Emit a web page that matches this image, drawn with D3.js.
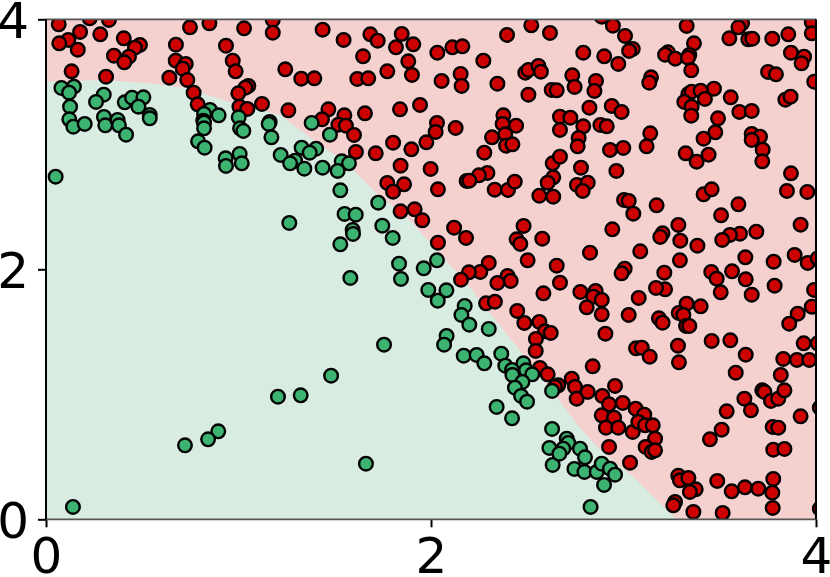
<!DOCTYPE html>
<html>
<head>
<meta charset="utf-8">
<script src="https://cdn.jsdelivr.net/npm/d3@7"></script>
<style>
    body { margin: 0; background: #fff; }
    svg { display: block; }
    text { font-family: "DejaVu Sans"; }
</style>
</head>
<body>
<div id="chart"></div>
<script>
var tickValues = [0, 2, 4];

//Points of the class outside the boundary
var redPoints = [
    [.066,3.96],[.227,4.008],[.327,3.995],[.177,3.899],[.116,3.835],[.069,3.808],[.165,3.757],[.282,3.88],[.404,3.848],[.488,3.795],
    [.462,3.773],[.353,3.709],[.431,3.701],[.407,3.656],[.133,3.584],[.312,3.541],[.675,3.797],[.748,3.936],[.849,3.968],[1.029,3.928],
    [1.178,3.995],[1.178,3.893],[.935,3.789],[.97,3.669],[.985,3.584],[.674,3.669],[.726,3.643],[.71,3.605],[.641,3.533],[.734,3.515],
    [.767,3.413],[.788,3.32],[1.051,3.467],[1.036,3.453],[.999,3.408],[1.122,3.323],[1.005,3.301],[1.046,3.283],
    [1.437,3.917],[1.546,3.835],[1.685,3.88],[1.723,3.829],[1.848,3.883],[1.908,3.8],[1.818,3.776],[1.647,3.704],[1.882,3.664],[1.243,3.6],
    [1.326,3.525],[1.394,3.528],[1.617,3.523],[1.674,3.528],[1.773,3.584],[1.901,3.555],[2.033,3.733],[2.111,3.776],[2.163,3.784],[2.272,3.669],
    [2.395,3.875],[2.521,3.952],[2.618,3.891],[2.49,3.573],[2.506,3.595],[2.558,3.627],[2.571,3.581],[2.055,3.507],[2.154,3.563],[2.159,3.467],
    [2.345,3.485],[2.506,3.397],[2.627,3.435],[2.653,3.432],[1.259,3.272],[1.467,3.28],[1.434,3.2],[1.55,3.232],[1.519,3.157],[1.558,3.149],
    [1.6,3.075],[1.657,3.248],[1.839,3.28],[1.943,3.315],[2.031,3.171],[2.024,3.099],[2.128,3.131],[1.976,3.016],[1.898,2.96],[1.803,3.013],
    [2.376,3.232],[2.372,3.163],[2.442,3.149],[2.317,3.056],[2.386,3.08],[2.39,2.989],[2.423,3.0],[2.277,2.933],[1.61,2.939],[1.713,2.928],
    [1.842,2.829],[1.998,2.803],[2.67,3.221],[2.67,3.115],[2.632,2.848],[2.635,2.736],[2.606,2.693],[2.67,2.901],[1.773,2.691],[1.86,2.68],
    [1.803,2.621],[2.036,2.64],[2.293,2.771],[2.249,2.752],[2.185,2.707],[2.199,2.709],[2.331,2.637],[2.4,2.635],[2.435,2.701],[2.563,2.589],[2.635,2.581],
    [2.887,4.021],[2.945,3.949],[3.008,3.867],[2.791,3.733],[2.9,3.704],[3.048,3.763],[3.029,3.747],[2.973,3.643],[2.734,3.552],[2.746,3.459],
    [2.857,3.507],[2.849,3.427],[2.823,3.293],[2.939,3.307],[2.99,3.259],[2.724,3.213],[2.791,3.144],[2.88,3.155],[2.913,3.144],[2.767,3.051],
    [2.762,2.984],[2.779,2.813],[2.93,2.955],[2.999,2.971],[2.963,2.787],[3.143,3.536],[3.134,3.493],[3.139,3.088],[3.12,2.984],[3.328,3.947],
    [3.616,3.968],[3.597,3.936],[3.55,3.848],[3.648,3.84],[3.669,3.845],[3.773,3.845],[3.856,3.88],[3.978,3.976],[3.978,3.888],[3.366,3.808],
    [3.231,3.736],[3.216,3.717],[3.269,3.685],[3.342,3.715],[3.335,3.693],[3.352,3.592],[3.87,3.733],[3.938,3.701],[3.925,3.648],[3.751,3.579],
    [3.792,3.56],[3.991,3.501],[3.47,3.445],[3.557,3.376],[3.337,3.403],[3.354,3.421],[3.401,3.429],[3.423,3.363],[3.316,3.339],[3.354,3.301],
    [3.352,3.229],[3.602,3.259],[3.666,3.267],[3.491,3.208],[3.841,3.357],[3.868,3.381],[3.477,3.096],[3.416,3.045],[3.323,2.928],[3.38,2.861],
    [3.442,2.917],[3.666,3.083],[3.709,3.061],[3.666,3.035],[3.723,2.957],[3.721,2.864],[3.87,2.768],[3.849,2.627],[3.955,2.619],[2.758,2.675],
    [2.814,2.693],[2.788,2.627],[3.416,2.6],[3.458,2.64],
    [1.842,2.464],[1.915,2.48],[1.955,2.392],[2.12,2.333],[2.182,2.251],[2.036,2.213],[2.481,2.347],[2.445,2.24],[2.464,2.203],[2.578,2.245],
    [2.502,2.072],[2.653,2.029],[2.3,2.051],[2.256,1.979],[2.197,1.976],[2.156,1.917],[2.398,1.947],[2.414,1.907],[2.345,1.891],[2.67,1.893],
    [2.584,1.808],[2.286,1.728],[2.332,1.741],[2.448,1.667],[2.485,1.571],[2.563,1.579],[2.592,1.504],[2.622,1.491],[2.545,1.443],[2.544,1.347],
    [2.566,1.211],[2.606,1.16],
    [3.003,2.555],[3.027,2.547],[3.051,2.445],[3.172,2.512],[3.285,2.355],[3.597,2.52],[3.507,2.432],[2.942,2.32],[3.203,2.288],[3.191,2.259],
    [3.295,2.229],[3.384,2.189],[3.92,2.357],[3.69,2.301],[3.605,2.285],[3.553,2.275],[3.513,2.235],[2.826,2.133],[3.087,2.144],[3.293,2.072],
    [3.633,2.096],[3.78,2.061],[3.889,2.115],[3.957,2.051],[4.009,2.088],[3.006,2.005],[2.99,1.968],[3.212,1.973],[3.456,1.979],[3.564,1.984],
    [3.484,1.925],[3.635,1.92],[3.216,1.84],[3.169,1.851],[3.505,1.816],[3.666,1.797],[3.785,1.869],[3.99,1.835],[2.776,1.819],[2.855,1.827],
    [2.843,1.781],[2.887,1.755],[2.809,1.696],[2.887,1.64],[3.079,1.771],[3.027,1.635],[3.328,1.725],[3.401,1.704],[3.287,1.651],[3.311,1.635],
    [3.905,1.645],[3.861,1.565],[3.978,1.701],[3.184,1.608],[3.203,1.573],[3.325,1.547],[3.342,1.547],[2.906,1.485],[3.458,1.427],[3.555,1.432],
    [3.936,1.408],[4.009,1.408],[3.065,1.368],[3.095,1.373],[3.136,1.301],[3.283,1.389],[3.288,1.256],[3.635,1.317],[3.83,1.283],[3.901,1.275],
    [3.965,1.275],[2.84,1.224],[3.583,1.173],[3.817,1.155],
    [2.731,1.125],[2.661,1.072],[2.644,1.059],[2.748,1.059],[2.757,.965],[2.814,1.019],[2.89,.987],[2.956,1.067],[2.925,.92],[2.996,.931],
    [2.887,.832],[2.951,.813],[3.063,.885],[3.108,.837],[2.909,.733],[2.973,.733],[3.048,.699],[3.077,.779],[3.112,.752],[3.152,.752],
    [3.164,.645],[3.115,.579],[3.146,.539],[3.164,.552],[2.925,.579],[3.034,.453],[3.285,.349],[3.293,.312],[3.337,.331],[3.375,.24],
    [3.345,.219],[3.268,.139],[3.259,.112],[3.363,.059],[3.487,.307],[3.562,.224],[3.631,.256],[3.7,.245],[3.778,.323],[3.773,.213],
    [3.775,.091],[3.515,.051],[3.449,.64],[3.51,.717],[3.536,.864],[3.628,.965],[3.662,.872],[3.721,1.032],[3.732,1.019],[3.766,.947],
    [3.804,.965],[3.836,1.032],[3.92,.824],[3.775,.739],[3.804,.733],[3.778,.557],[3.836,.563],[4.02,.893],[4.02,.085]
];

//Points of the class inside the boundary
var greenPoints = [
    [.08,3.451],[.145,3.461],[.12,3.413],[.125,3.301],[.121,3.2],[.142,3.141],[.201,3.163],[.3,3.397],[.26,3.339],[.301,3.219],
    [.308,3.152],[.372,3.195],[.379,3.152],[.416,3.077],[.409,3.336],[.447,3.373],[.506,3.376],[.48,3.301],[.539,3.235],[.539,3.208],
    [.852,3.275],[.897,3.232],[.821,3.243],[.817,3.189],[.821,3.173],[.821,3.128],[.79,3.024],[.824,2.973],[1.001,3.216],[1.008,3.128],
    [1.025,3.107],[1.162,3.179],[1.157,3.163],[1.171,3.056],[.933,2.888],[.935,2.827],[1.006,2.923],[1.017,2.848],[.05,2.741],[1.219,2.915],
    [1.38,3.171],[1.475,3.077],[1.328,2.973],[1.403,2.965],[1.37,2.933],[1.294,2.869],[1.268,2.848],[1.342,2.805],[1.437,2.813],[1.536,2.864],
    [1.574,2.848],[1.515,2.787],[1.529,2.632],
    [1.551,2.443],[1.609,2.437],[1.593,2.315],[1.595,2.283],[1.747,2.349],[1.726,2.533],[1.801,2.251],[1.529,2.2],[1.264,2.371],[1.834,2.045],
    [1.844,1.923],[1.581,1.931],[1.962,2.008],[2.031,2.072],[1.986,1.835],[2.08,1.832],[2.035,1.749],[2.175,1.707],[2.158,1.635],[2.199,1.557],
    [2.3,1.523],[2.081,1.467],[2.068,1.397],[1.756,1.397],[2.17,1.309],[2.237,1.315],[2.277,1.248],[2.365,1.325],[2.386,1.229],[2.48,1.248],
    [2.421,1.195],[2.494,1.192],[2.423,1.155],[2.526,1.16],[2.475,1.099],[1.481,1.149],
    [1.323,.992],[1.205,.981],[1.662,.445],[2.436,1.053],[2.468,.987],[2.499,.941],[2.341,.899],[2.421,.808],[2.629,1.027],[2.629,.723],
    [2.615,.571],[2.632,.435],[.895,.704],[.842,.64],[.722,.592],[.14,.099],
    [2.705,.645],[2.713,.611],[2.687,.565],[2.667,.525],[2.774,.565],[2.8,.496],[2.745,.403],[2.797,.379],[2.861,.379],[2.887,.445],
    [2.93,.405],[2.956,.357],[2.899,.275],[2.829,.099]
];

//Edge between the two coloured regions
var boundary = [
    [0,3.5],[.28,3.515],[.54,3.488],[.731,3.448],[.973,3.328],[1.216,3.235],[1.389,3.035],[1.562,2.848],[1.735,2.581],
    [1.856,2.448],[2.029,2.155],[2.185,1.888],[2.341,1.584],[2.566,1.149],[2.653,.979],[2.757,.765],[2.878,.552],[3.051,.339],[3.276,0]
];

var width = 830;
var height = 577;
var margin = {
    left: 46,
    right: 14,
    top: 19.3,
    bottom: 57.7
};
var chartWidth = width - margin.left - margin.right;
var chartHeight = height - margin.top - margin.bottom;

var xScale = d3.scaleLinear().domain([0, 4]).range([0, chartWidth]);
var yScale = d3.scaleLinear().domain([0, 4]).range([chartHeight, 0]);

var svg = d3.select('#chart').append('svg')
    .attr('width', width)
    .attr('height', height);

svg.append('defs').append('clipPath')
    .attr('id', 'plot-clip')
    .append('rect')
    .attr('width', chartWidth)
    .attr('height', chartHeight);

var g = svg.append('g')
    .attr('transform', 'translate(' + margin.left + ',' + margin.top + ')');

var plot = g.append('g').attr('clip-path', 'url(#plot-clip)');

plot.append('rect')
    .attr('width', chartWidth)
    .attr('height', chartHeight)
    .attr('fill', '#f4d0cf');

var area = d3.area()
    .x(function(d) { return xScale(d[0]); })
    .y0(chartHeight)
    .y1(function(d) { return yScale(d[1]); });

plot.append('path')
    .datum(boundary)
    .attr('d', area)
    .attr('fill', '#d9ece1');

function drawPoints(data, color) {
    plot.append('g').selectAll('circle')
        .data(data)
        .enter().append('circle')
        .attr('cx', function(d) { return xScale(d[0]); })
        .attr('cy', function(d) { return yScale(d[1]); })
        .attr('r', 6.8)
        .attr('fill', color)
        .attr('stroke', '#000')
        .attr('stroke-width', 2.4);
}

drawPoints(redPoints, '#cc0000');
drawPoints(greenPoints, '#3cb371');

var xAxis = d3.axisBottom(xScale).tickValues(tickValues).tickFormat(d3.format('d')).tickSize(8).tickPadding(10);
var yAxis = d3.axisLeft(yScale).tickValues(tickValues).tickFormat(d3.format('d')).tickSize(8).tickPadding(9);

var xGroup = g.append('g').attr('transform', 'translate(0,' + chartHeight + ')').call(xAxis);
var yGroup = g.append('g').call(yAxis);

[xGroup, yGroup].forEach(function(axis) {
    axis.select('.domain').remove();
    axis.selectAll('.tick line').attr('stroke', '#000').attr('stroke-width', 2);
    axis.selectAll('.tick text')
        .attr('fill', '#000')
        .style('font-family', '"DejaVu Sans"')
        .style('font-size', '50px');
});

//Digits sit centred on the tick in the reference
yGroup.selectAll('.tick text').attr('dy', '.37em');

//Spines: top and bottom come out greyer than the sides in the reference
g.append('line').attr('x1', 0).attr('x2', chartWidth).attr('y1', 0).attr('y2', 0)
    .attr('stroke', '#555').attr('stroke-width', 1.8);
g.append('line').attr('x1', 0).attr('x2', chartWidth).attr('y1', chartHeight).attr('y2', chartHeight)
    .attr('stroke', '#555').attr('stroke-width', 1.8);
g.append('line').attr('x1', 0).attr('x2', 0).attr('y1', 0).attr('y2', chartHeight)
    .attr('stroke', '#000').attr('stroke-width', 2);
g.append('line').attr('x1', chartWidth).attr('x2', chartWidth).attr('y1', 0).attr('y2', chartHeight)
    .attr('stroke', '#000').attr('stroke-width', 2);
</script>
</body>
</html>
